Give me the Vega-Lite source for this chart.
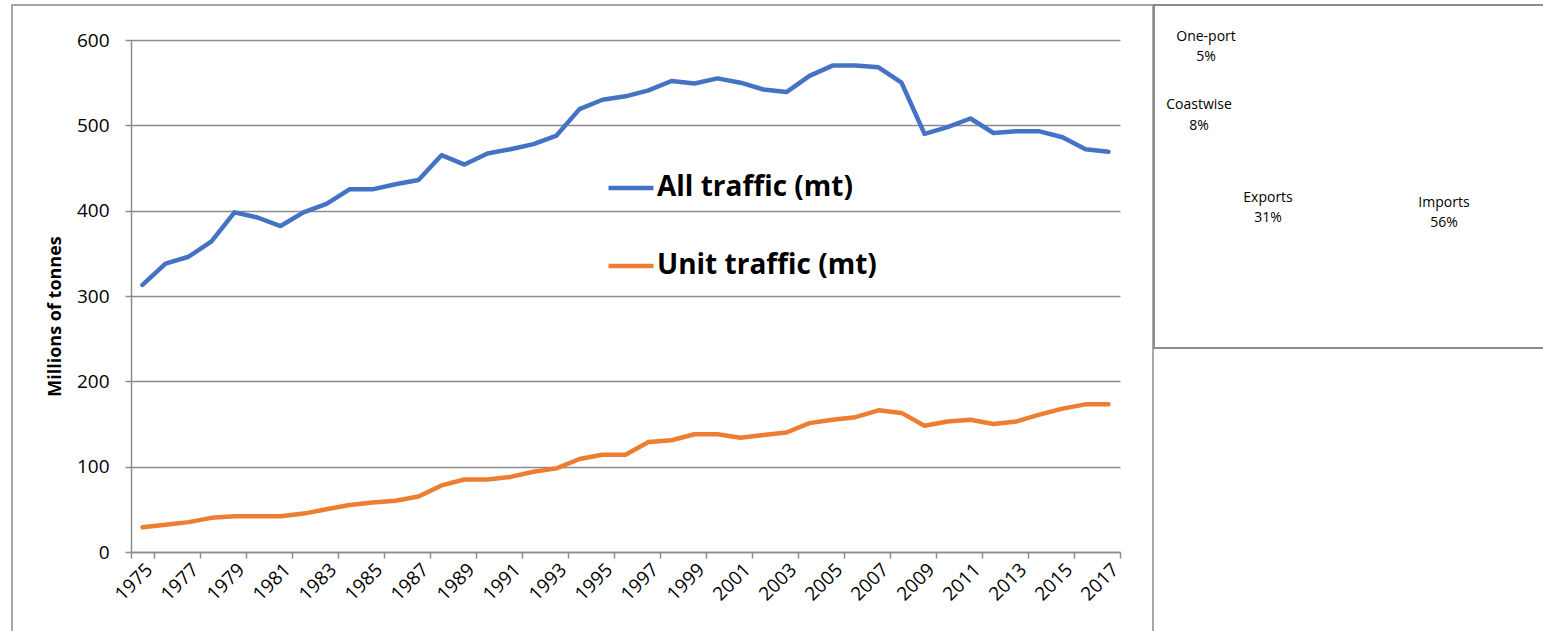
{
  "$schema": "https://vega.github.io/schema/vega-lite/v6.json",
  "padding": {"left": 11, "top": 3, "right": 0, "bottom": 0},
  "spacing": 1,
  "bounds": "flush",
  "config": {
    "view": {"stroke": "#8c8c8c", "strokeWidth": 1.5},
    "font": "Open Sans"
  },
  "hconcat": [
    {
      "width": 1141,
      "height": 627,
      "data": {"values": [
        {"year": "1975", "series": "All traffic (mt)", "value": 313},
        {"year": "1976", "series": "All traffic (mt)", "value": 338},
        {"year": "1977", "series": "All traffic (mt)", "value": 346},
        {"year": "1978", "series": "All traffic (mt)", "value": 364},
        {"year": "1979", "series": "All traffic (mt)", "value": 398},
        {"year": "1980", "series": "All traffic (mt)", "value": 392},
        {"year": "1981", "series": "All traffic (mt)", "value": 382},
        {"year": "1982", "series": "All traffic (mt)", "value": 398},
        {"year": "1983", "series": "All traffic (mt)", "value": 408},
        {"year": "1984", "series": "All traffic (mt)", "value": 425},
        {"year": "1985", "series": "All traffic (mt)", "value": 425},
        {"year": "1986", "series": "All traffic (mt)", "value": 431},
        {"year": "1987", "series": "All traffic (mt)", "value": 436},
        {"year": "1988", "series": "All traffic (mt)", "value": 465},
        {"year": "1989", "series": "All traffic (mt)", "value": 454},
        {"year": "1990", "series": "All traffic (mt)", "value": 467},
        {"year": "1991", "series": "All traffic (mt)", "value": 472},
        {"year": "1992", "series": "All traffic (mt)", "value": 478},
        {"year": "1993", "series": "All traffic (mt)", "value": 488},
        {"year": "1994", "series": "All traffic (mt)", "value": 519},
        {"year": "1995", "series": "All traffic (mt)", "value": 530},
        {"year": "1996", "series": "All traffic (mt)", "value": 534},
        {"year": "1997", "series": "All traffic (mt)", "value": 541},
        {"year": "1998", "series": "All traffic (mt)", "value": 552},
        {"year": "1999", "series": "All traffic (mt)", "value": 549},
        {"year": "2000", "series": "All traffic (mt)", "value": 555},
        {"year": "2001", "series": "All traffic (mt)", "value": 550},
        {"year": "2002", "series": "All traffic (mt)", "value": 542},
        {"year": "2003", "series": "All traffic (mt)", "value": 539},
        {"year": "2004", "series": "All traffic (mt)", "value": 558},
        {"year": "2005", "series": "All traffic (mt)", "value": 570},
        {"year": "2006", "series": "All traffic (mt)", "value": 570},
        {"year": "2007", "series": "All traffic (mt)", "value": 568},
        {"year": "2008", "series": "All traffic (mt)", "value": 550},
        {"year": "2009", "series": "All traffic (mt)", "value": 490},
        {"year": "2010", "series": "All traffic (mt)", "value": 498},
        {"year": "2011", "series": "All traffic (mt)", "value": 508},
        {"year": "2012", "series": "All traffic (mt)", "value": 491},
        {"year": "2013", "series": "All traffic (mt)", "value": 493},
        {"year": "2014", "series": "All traffic (mt)", "value": 493},
        {"year": "2015", "series": "All traffic (mt)", "value": 486},
        {"year": "2016", "series": "All traffic (mt)", "value": 472},
        {"year": "2017", "series": "All traffic (mt)", "value": 469},
        {"year": "1975", "series": "Unit traffic (mt)", "value": 29},
        {"year": "1976", "series": "Unit traffic (mt)", "value": 32},
        {"year": "1977", "series": "Unit traffic (mt)", "value": 35},
        {"year": "1978", "series": "Unit traffic (mt)", "value": 40},
        {"year": "1979", "series": "Unit traffic (mt)", "value": 42},
        {"year": "1980", "series": "Unit traffic (mt)", "value": 42},
        {"year": "1981", "series": "Unit traffic (mt)", "value": 42},
        {"year": "1982", "series": "Unit traffic (mt)", "value": 45},
        {"year": "1983", "series": "Unit traffic (mt)", "value": 50},
        {"year": "1984", "series": "Unit traffic (mt)", "value": 55},
        {"year": "1985", "series": "Unit traffic (mt)", "value": 58},
        {"year": "1986", "series": "Unit traffic (mt)", "value": 60},
        {"year": "1987", "series": "Unit traffic (mt)", "value": 65},
        {"year": "1988", "series": "Unit traffic (mt)", "value": 78},
        {"year": "1989", "series": "Unit traffic (mt)", "value": 85},
        {"year": "1990", "series": "Unit traffic (mt)", "value": 85},
        {"year": "1991", "series": "Unit traffic (mt)", "value": 88},
        {"year": "1992", "series": "Unit traffic (mt)", "value": 94},
        {"year": "1993", "series": "Unit traffic (mt)", "value": 98},
        {"year": "1994", "series": "Unit traffic (mt)", "value": 109},
        {"year": "1995", "series": "Unit traffic (mt)", "value": 114},
        {"year": "1996", "series": "Unit traffic (mt)", "value": 114},
        {"year": "1997", "series": "Unit traffic (mt)", "value": 129},
        {"year": "1998", "series": "Unit traffic (mt)", "value": 131},
        {"year": "1999", "series": "Unit traffic (mt)", "value": 138},
        {"year": "2000", "series": "Unit traffic (mt)", "value": 138},
        {"year": "2001", "series": "Unit traffic (mt)", "value": 134},
        {"year": "2002", "series": "Unit traffic (mt)", "value": 137},
        {"year": "2003", "series": "Unit traffic (mt)", "value": 140},
        {"year": "2004", "series": "Unit traffic (mt)", "value": 151},
        {"year": "2005", "series": "Unit traffic (mt)", "value": 155},
        {"year": "2006", "series": "Unit traffic (mt)", "value": 158},
        {"year": "2007", "series": "Unit traffic (mt)", "value": 166},
        {"year": "2008", "series": "Unit traffic (mt)", "value": 163},
        {"year": "2009", "series": "Unit traffic (mt)", "value": 148},
        {"year": "2010", "series": "Unit traffic (mt)", "value": 153},
        {"year": "2011", "series": "Unit traffic (mt)", "value": 155},
        {"year": "2012", "series": "Unit traffic (mt)", "value": 150},
        {"year": "2013", "series": "Unit traffic (mt)", "value": 153},
        {"year": "2014", "series": "Unit traffic (mt)", "value": 161},
        {"year": "2015", "series": "Unit traffic (mt)", "value": 168},
        {"year": "2016", "series": "Unit traffic (mt)", "value": 173},
        {"year": "2017", "series": "Unit traffic (mt)", "value": 173}
      ]},
      "mark": {"type": "line", "strokeWidth": 4.5, "strokeCap": "round", "strokeJoin": "round"},
      "encoding": {
        "x": {
          "field": "year", "type": "ordinal", "bandPosition": 0.5,
          "scale": {"type": "band", "range": [119, 1108], "paddingInner": 0, "paddingOuter": 0},
          "axis": {
            "values": ["1975","1977","1979","1981","1983","1985","1987","1989","1991","1993","1995","1997","1999","2001","2003","2005","2007","2009","2011","2013","2015","2017"],
            "tickBand": "extent",
            "offset": -80,
            "grid": false,
            "domainColor": "#8c8c8c", "domainWidth": 1.5,
            "tickColor": "#8c8c8c", "tickWidth": 1.5, "tickSize": 6,
            "labelAngle": -45, "labelFont": "Open Sans", "labelFontSize": 19,
            "labelColor": "#000000", "labelPadding": 2, "labelOverlap": false,
            "title": null
          }
        },
        "y": {
          "field": "value", "type": "quantitative",
          "scale": {"domain": [0, 600], "range": [547, 35], "nice": false},
          "axis": {
            "values": [0, 100, 200, 300, 400, 500, 600],
            "offset": -119,
            "grid": true, "gridColor": "#8c8c8c", "gridWidth": 1.5,
            "domainColor": "#8c8c8c", "domainWidth": 1.5,
            "tickColor": "#8c8c8c", "tickWidth": 1.5, "tickSize": 6,
            "labelFont": "Open Sans", "labelFontSize": 19, "labelColor": "#000000", "labelPadding": 16,
            "title": "Millions of tonnes", "titleFont": "Open Sans", "titleFontSize": 18,
            "titleFontWeight": "bold", "titleColor": "#000000", "titlePadding": 12, "titleY": 311
          }
        },
        "color": {
          "field": "series", "type": "nominal",
          "scale": {"domain": ["All traffic (mt)", "Unit traffic (mt)"], "range": ["#4472C4", "#ED7D31"]},
          "legend": {
            "title": null, "orient": "none", "legendX": 594, "legendY": 158,
            "symbolType": "stroke", "symbolSize": 2025, "symbolStrokeWidth": 4.5,
            "labelFont": "Open Sans", "labelFontSize": 28, "labelFontWeight": "bold",
            "labelColor": "#000000", "rowPadding": 39, "labelOffset": 1, "labelLimit": 400
          }
        }
      }
    },
    {
      "width": 390,
      "height": 343,
      "data": {"values": [
        {"category": "Imports", "pct": "56%", "share": 56},
        {"category": "Exports", "pct": "31%", "share": 31},
        {"category": "Coastwise", "pct": "8%", "share": 8},
        {"category": "One-port", "pct": "5%", "share": 5}
      ]},
      "layer": [
        {
          "mark": {"type": "rect", "fill": null, "fillOpacity": 0, "stroke": "#8c8c8c", "strokeWidth": 1.5},
          "encoding": {
            "x": {"value": 0}, "x2": {"value": "width"},
            "y": {"value": 0}, "y2": {"value": "height"}
          }
        },
        {
          "encoding": {
            "theta": {"field": "share", "type": "quantitative", "stack": true},
            "order": {"field": "share", "type": "quantitative", "sort": "descending"},
            "detail": {"field": "category", "type": "nominal"}
          },
          "layer": [
            {"mark": {"type": "text", "radius": 92, "dx": 4.6, "dy": 9.3, "fontSize": 14, "font": "Open Sans", "color": "#000000"},
             "encoding": {"text": {"condition": {"test": "datum.category === 'Imports'", "field": "category"}, "value": ""}}},
            {"mark": {"type": "text", "radius": 92, "dx": 4.6, "dy": 29.3, "fontSize": 14, "font": "Open Sans", "color": "#000000"},
             "encoding": {"text": {"condition": {"test": "datum.category === 'Imports'", "field": "pct"}, "value": ""}}},
            {"mark": {"type": "text", "radius": 92, "dx": 8.8, "dy": 1.5, "fontSize": 14, "font": "Open Sans", "color": "#000000"},
             "encoding": {"text": {"condition": {"test": "datum.category === 'Exports'", "field": "category"}, "value": ""}}},
            {"mark": {"type": "text", "radius": 92, "dx": 8.8, "dy": 21.5, "fontSize": 14, "font": "Open Sans", "color": "#000000"},
             "encoding": {"text": {"condition": {"test": "datum.category === 'Exports'", "field": "pct"}, "value": ""}}},
            {"mark": {"type": "text", "radius": 150, "dx": -69.6, "dy": 55, "fontSize": 14, "font": "Open Sans", "color": "#000000"},
             "encoding": {"text": {"condition": {"test": "datum.category === 'Coastwise'", "field": "category"}, "value": ""}}},
            {"mark": {"type": "text", "radius": 150, "dx": -69.6, "dy": 76, "fontSize": 14, "font": "Open Sans", "color": "#000000"},
             "encoding": {"text": {"condition": {"test": "datum.category === 'Coastwise'", "field": "pct"}, "value": ""}}},
            {"mark": {"type": "text", "radius": 150, "dx": -119.5, "dy": 8.7, "fontSize": 14, "font": "Open Sans", "color": "#000000"},
             "encoding": {"text": {"condition": {"test": "datum.category === 'One-port'", "field": "category"}, "value": ""}}},
            {"mark": {"type": "text", "radius": 150, "dx": -119.5, "dy": 28.7, "fontSize": 14, "font": "Open Sans", "color": "#000000"},
             "encoding": {"text": {"condition": {"test": "datum.category === 'One-port'", "field": "pct"}, "value": ""}}}
          ]
        }
      ]
    }
  ]
}
